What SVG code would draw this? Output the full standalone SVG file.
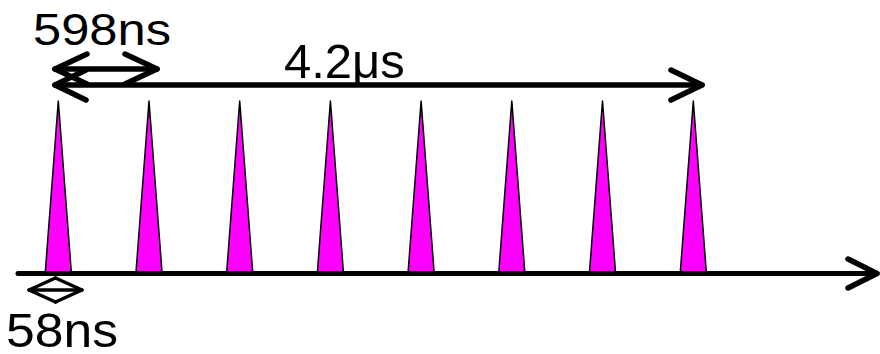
<svg xmlns="http://www.w3.org/2000/svg" width="880" height="354" viewBox="0 0 880 354">
<style>
.pulse{fill:#FF00FF;stroke:#000;stroke-width:1.5;stroke-linejoin:round}
.ln{fill:none;stroke:#000;stroke-linecap:round;stroke-linejoin:round}
.thick{stroke-width:5.5}
.thin{stroke-width:3.5}
text{font-family:"Liberation Sans",Arial,sans-serif;fill:#000}
</style>
<rect width="880" height="354" fill="#fff"/>
<g id="pulses">
<g id="p1"><polygon class="pulse" points="58.3,101 45.3,272 71.3,272"/></g>
<g id="p2"><polygon class="pulse" points="149,101 136,272 162,272"/></g>
<g id="p3"><polygon class="pulse" points="239.7,101 226.7,272 252.7,272"/></g>
<g id="p4"><polygon class="pulse" points="330.4,101 317.4,272 343.4,272"/></g>
<g id="p5"><polygon class="pulse" points="421.1,101 408.1,272 434.1,272"/></g>
<g id="p6"><polygon class="pulse" points="511.8,101 498.8,272 524.8,272"/></g>
<g id="p7"><polygon class="pulse" points="602.5,101 589.5,272 615.5,272"/></g>
<g id="p8"><polygon class="pulse" points="693.3,101 680.3,272 706.3,272"/></g>
</g>
<g id="connectors">
<g id="axis">
<line class="ln" x1="18" y1="273.5" x2="877" y2="273.5" stroke-width="5" stroke-linecap="butt"/>
<polyline class="ln thick" points="848,259 877,273.5 848,288"/>
</g>
<g id="span42">
<line class="ln thick" x1="55" y1="85" x2="702" y2="85"/>
<polyline class="ln thick" points="86,70 55,85 86,100"/>
<polyline class="ln thick" points="671,70 702,85 671,100"/>
</g>
<g id="span598">
<line class="ln thick" x1="55" y1="69" x2="157" y2="69"/>
<polyline class="ln thick" points="87,54 55,69 87,84"/>
<polyline class="ln thick" points="125,54 157,69 125,84"/>
</g>
<g id="span58">
<line class="ln thin" x1="29" y1="290" x2="82" y2="290"/>
<polyline class="ln thin" points="55.5,278 29,290 55.5,302"/>
<polyline class="ln thin" points="55.5,278 82,290 55.5,302"/>
</g>
</g>
<g id="labels">
<text x="33" y="45" font-size="44" textLength="138" lengthAdjust="spacingAndGlyphs">598ns</text>
<text x="284" y="78" font-size="49">4.2μs</text>
<text x="6" y="347" font-size="49" textLength="112" lengthAdjust="spacingAndGlyphs">58ns</text>
</g>
</svg>
